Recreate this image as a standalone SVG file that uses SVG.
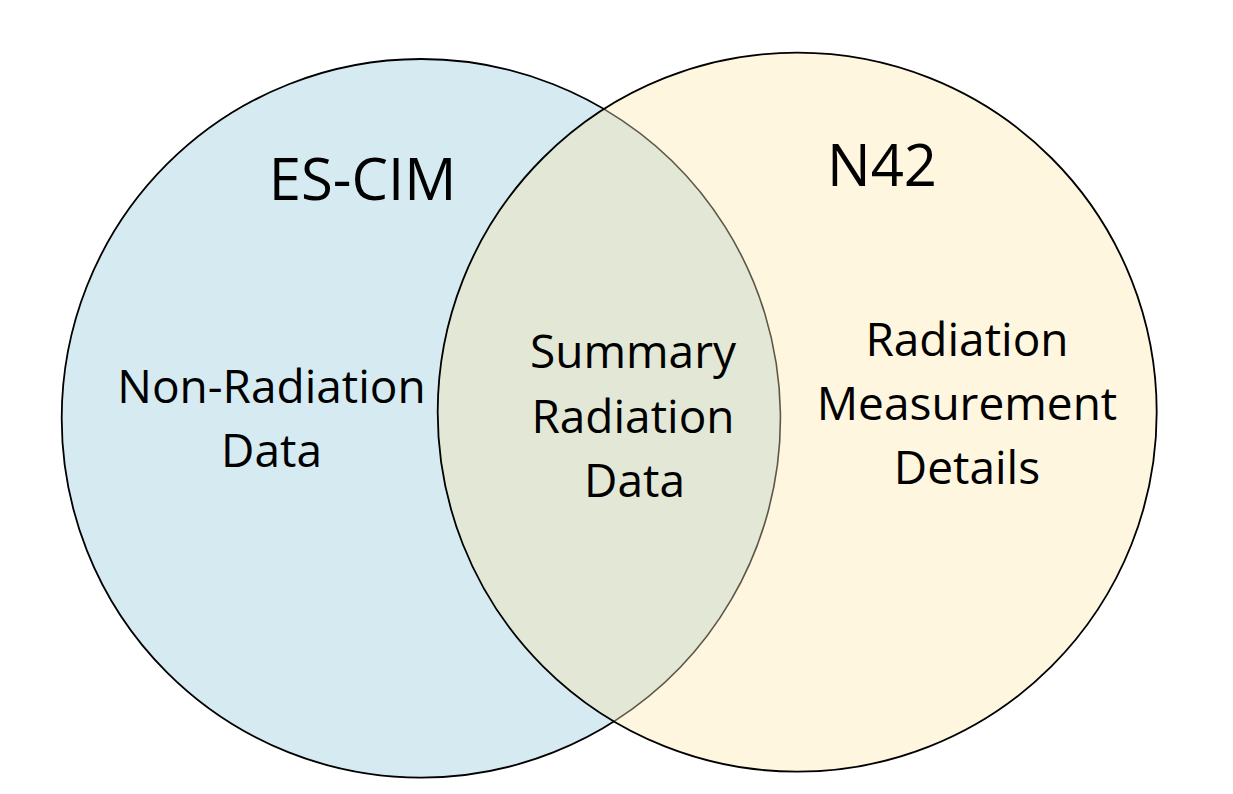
<svg xmlns="http://www.w3.org/2000/svg" width="1233" height="794" viewBox="0 0 1233 794">
  <style>
    .t { font-family: "Open Sans", "Liberation Sans", sans-serif; fill: #000000; text-anchor: middle; }
    .title { font-size: 58px; }
    .body { font-size: 46px; }
  </style>
  <rect x="0" y="0" width="1233" height="794" fill="#ffffff"/>
  <g id="es-cim">
    <circle cx="421" cy="418.3" r="359.3" fill="#D6EAF2" stroke="#000000" stroke-width="1.8"/>
  </g>
  <g id="n42">
    <circle cx="797.2" cy="412.2" r="359.5" fill="#FFF6DF" stroke="none"/>
  </g>
  <g id="overlap">
    <path d="M604.1,109.1 A359.5,359.5 0 0 0 614.1,721.4 A359.3,359.3 0 0 0 604.1,109.1 Z" fill="#E2E8D5" stroke="none"/>
    <path d="M614.1,721.4 A359.3,359.3 0 0 0 604.1,109.1" fill="none" stroke="#5E5747" stroke-width="1.6"/>
  </g>
  <g id="n42-outline">
    <circle cx="797.2" cy="412.2" r="359.5" fill="none" stroke="#000000" stroke-width="1.8"/>
  </g>
  <g id="labels">
    <text class="t title" x="362.5" y="200">ES-CIM</text>
    <text class="t title" x="882" y="186">N42</text>
    <text class="t body" x="271.5" y="403">Non-Radiation</text>
    <text class="t body" x="271.5" y="467">Data</text>
    <text class="t body" x="633" y="368">Summary</text>
    <text class="t body" x="633" y="433">Radiation</text>
    <text class="t body" x="634.5" y="497">Data</text>
    <text class="t body" x="967" y="356">Radiation</text>
    <text class="t body" x="967" y="420">Measurement</text>
    <text class="t body" x="967" y="484">Details</text>
  </g>
</svg>
